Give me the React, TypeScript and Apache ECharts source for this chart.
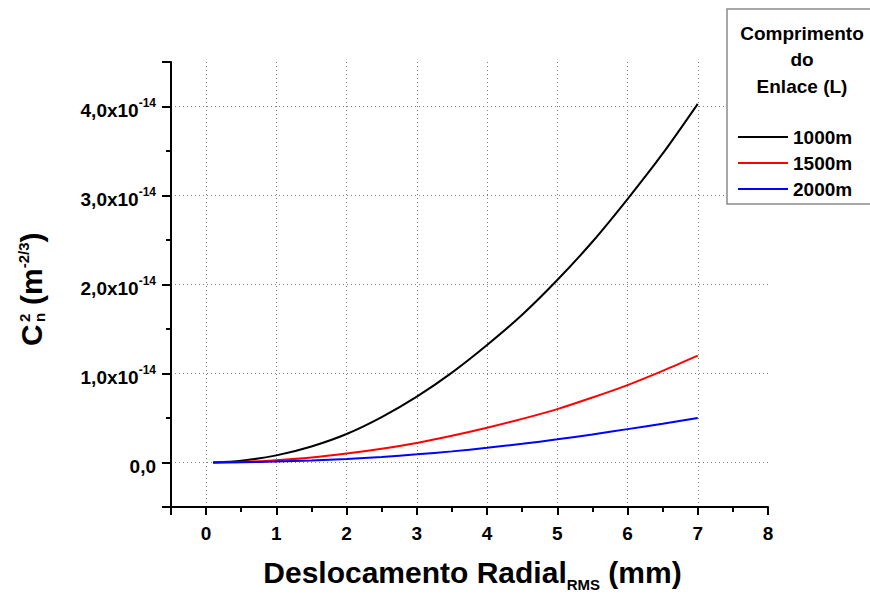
import React, { useEffect, useRef } from 'react';
import * as echarts from 'echarts';

// x: radial displacement RMS (mm)
const xValues = [0.1, 0.5, 1, 1.5, 2, 2.5, 3, 3.5, 4, 4.5, 5, 5.5, 6, 6.5, 7];
// Cn^2 values in units of 1e-14 m^-2/3
const cn2L1000 = [0, 0.02, 0.08, 0.18, 0.32, 0.51, 0.74, 1.01, 1.32, 1.66, 2.05, 2.48, 2.96, 3.47, 4.03];
const cn2L1500 = [0, 0.006, 0.025, 0.055, 0.1, 0.155, 0.22, 0.3, 0.39, 0.49, 0.6, 0.73, 0.87, 1.03, 1.2];
const cn2L2000 = [0, 0.003, 0.01, 0.023, 0.04, 0.063, 0.092, 0.125, 0.165, 0.21, 0.26, 0.315, 0.375, 0.435, 0.5];
const seriesNames = ['1000m', '1500m', '2000m'];
const seriesColors = ['#000000', '#ff0000', '#0000ff'];
const legendTitle = ['Comprimento', 'do', 'Enlace (L)'];
const yExponent = '-14';

const FONT = '"Liberation Sans", Arial, Helvetica, sans-serif';

export default function App() {
  const ref = useRef<HTMLDivElement>(null);
  useEffect(() => {
    document.body.style.margin = '0';
    if (!ref.current) return;
    const chart = echarts.init(ref.current, null, { renderer: 'svg' });
    const seriesData = [cn2L1000, cn2L1500, cn2L2000];
    const gridDash = { color: '#808080', width: 1, type: [1, 3] as any };
    const axisBlack = { color: '#000', width: 2 };
    chart.setOption({
      animation: false,
      backgroundColor: '#fff',
      textStyle: { fontFamily: FONT },
      grid: { left: 171, right: 102, top: 62, bottom: 86, containLabel: false },
      xAxis: [
        {
          type: 'value', min: -0.5, max: 8, splitNumber: 8, position: 'bottom',
          axisLine: { show: true, onZero: false, lineStyle: axisBlack },
          axisTick: { show: true, inside: false, length: 8, lineStyle: axisBlack },
          axisLabel: {
            margin: 17, color: '#000', fontSize: 19, fontWeight: 'bold', fontFamily: FONT,
            formatter: (v: number) => (Math.abs(v - Math.round(v)) < 1e-9 ? String(Math.round(v)) : ''),
          },
          splitLine: { show: true, showMinLine: false, showMaxLine: false, lineStyle: gridDash },
          name: '{a|Deslocamento Radial}{s|RMS}{a| (mm)}',
          nameLocation: 'middle', nameGap: 50,
          nameTextStyle: {
            padding: [0, 0, 0, 6],
            rich: {
              a: { fontSize: 30, fontWeight: 'bold', color: '#000', fontFamily: FONT, lineHeight: 30, verticalAlign: 'top' },
              s: { fontSize: 15, fontWeight: 'bold', color: '#000', fontFamily: FONT, lineHeight: 15, padding: [20, 0, 0, 0], verticalAlign: 'top' },
            },
          },
        },
        {
          type: 'value', min: -0.5, max: 8, interval: 0.5, position: 'bottom', offset: 0,
          axisLine: { show: false, onZero: false },
          axisTick: { show: true, inside: false, length: 5, lineStyle: axisBlack },
          axisLabel: { show: false },
          splitLine: { show: false },
        },
      ],
      yAxis: [
        {
          type: 'value', min: -0.5, max: 4.5, splitNumber: 5, position: 'left',
          axisLine: { show: true, onZero: false, lineStyle: axisBlack },
          axisTick: { show: true, inside: false, length: 9, lineStyle: axisBlack },
          axisLabel: {
            margin: 15, color: '#000', fontFamily: FONT,
            formatter: (v: number) => {
              if (Math.abs(v - Math.round(v)) > 1e-9) return '';
              const r = Math.round(v);
              if (r === 0) return '{n|0,0}';
              return `{n|${r.toFixed(1).replace('.', ',')}x10}{sup|${yExponent}}`;
            },
            rich: {
              n: { fontSize: 19, fontWeight: 'bold', color: '#000', fontFamily: FONT, lineHeight: 19, padding: [4, 0, 4, 0], verticalAlign: 'top' },
              sup: { fontSize: 12, fontWeight: 'bold', color: '#000', fontFamily: FONT, lineHeight: 12, verticalAlign: 'top' },
            },
          },
          splitLine: { show: true, showMinLine: false, showMaxLine: false, lineStyle: gridDash },
        },
        {
          type: 'value', min: -0.5, max: 4.5, interval: 0.5, position: 'left', offset: 0,
          axisLine: { show: false, onZero: false },
          axisTick: { show: true, inside: false, length: 5, lineStyle: axisBlack },
          axisLabel: { show: false },
          splitLine: { show: false },
        },
      ],
      legend: {
        orient: 'vertical', left: 738, top: 127, padding: 0, z: 60,
        itemWidth: 50, itemHeight: 2, itemGap: 6, icon: 'rect',
        textStyle: { fontSize: 19, fontWeight: 'bold', color: '#000', fontFamily: FONT, lineHeight: 20 },
        data: seriesNames,
      },
      series: seriesNames.map((name, i) => ({
        name,
        type: 'line',
        xAxisIndex: 0,
        yAxisIndex: 0,
        data: xValues.map((x, j) => [x, seriesData[i][j]]),
        smooth: 0.3,
        showSymbol: false,
        symbol: 'none',
        color: seriesColors[i],
        lineStyle: { color: seriesColors[i], width: 2 },
        itemStyle: { color: seriesColors[i] },
      })),
      graphic: [
        {
          type: 'rect', z: 50, shape: { x: 727, y: 9, width: 200, height: 195 },
          style: { fill: '#fff', stroke: '#8a8a8a', lineWidth: 1.5 },
        },
        ...legendTitle.map((t, i) => ({
          type: 'text', z: 60, x: 802, y: 33 + i * 26.5,
          style: {
            text: t, fontSize: 19, fontWeight: 'bold', fontFamily: FONT, fill: '#000',
            align: 'center', verticalAlign: 'middle', textAlign: 'center', textVerticalAlign: 'middle',
          },
        })),
        {
          type: 'group', x: 31, y: 346, rotation: Math.PI / 2, z: 60,
          children: [
            { type: 'text', x: 0, y: 0, style: { text: 'C', fontSize: 30, fontWeight: 'bold', fontFamily: FONT, fill: '#000', align: 'left', verticalAlign: 'middle', textAlign: 'left', textVerticalAlign: 'middle' } },
            { type: 'text', x: 24, y: -7, style: { text: '2', fontSize: 15, fontWeight: 'bold', fontFamily: FONT, fill: '#000', align: 'left', verticalAlign: 'middle', textAlign: 'left', textVerticalAlign: 'middle' } },
            { type: 'text', x: 24, y: 8, style: { text: 'n', fontSize: 15, fontWeight: 'bold', fontFamily: FONT, fill: '#000', align: 'left', verticalAlign: 'middle', textAlign: 'left', textVerticalAlign: 'middle' } },
            {
              type: 'text', x: 41, y: 0,
              style: {
                text: '{a|(m}{s|-2/3}{a|)}', fill: '#000', align: 'left', verticalAlign: 'middle', textAlign: 'left', textVerticalAlign: 'middle',
                rich: {
                  a: { fontSize: 30, fontWeight: 'bold', fontFamily: FONT, fill: '#000', lineHeight: 30, verticalAlign: 'top' },
                  s: { fontSize: 15, fontWeight: 'bold', fontFamily: FONT, fill: '#000', lineHeight: 15, verticalAlign: 'top' },
                },
              },
            },
          ],
        },
      ],
    });
    return () => chart.dispose();
  }, []);
  return <div ref={ref} style={{ width: 870, height: 597 }} />;
}
